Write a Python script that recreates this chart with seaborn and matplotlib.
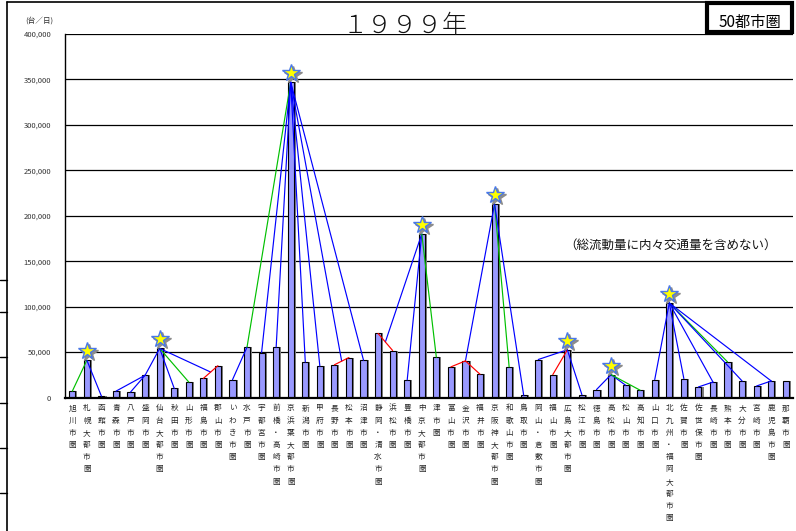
import numpy as np
import pandas as pd
import matplotlib
matplotlib.use("Agg")
import matplotlib.pyplot as plt
import matplotlib.transforms as mtransforms
from matplotlib.lines import Line2D
from matplotlib.patches import Rectangle
from matplotlib.ticker import FuncFormatter
import seaborn as sns

# 50都市圏 総流動量 (台/日), 1999年
areas = [
    "旭川市圏", "札幌大都市圏", "函館市圏", "青森市圏", "八戸市圏", "盛岡市圏",
    "仙台大都市圏", "秋田市圏", "山形市圏", "福島市圏", "郡山市圏", "いわき市圏",
    "水戸市圏", "宇都宮市圏", "前橋・高崎市圏", "京浜葉大都市圏", "新潟市圏",
    "甲府市圏", "長野市圏", "松本市圏", "沼津市圏", "静岡・清水市圏", "浜松市圏",
    "豊橋市圏", "中京大都市圏", "津市圏", "富山市圏", "金沢市圏", "福井市圏",
    "京阪神大都市圏", "和歌山市圏", "鳥取市圏", "岡山・倉敷市圏", "福山市圏",
    "広島大都市圏", "松江市圏", "徳島市圏", "高松市圏", "松山市圏", "高知市圏",
    "山口市圏", "北九州・福岡大都市圏", "佐賀市圏", "佐世保市圏", "長崎市圏",
    "熊本市圏", "大分市圏", "宮崎市圏", "鹿児島市圏", "那覇市圏",
]
flows = [
    7000, 41000, 1500, 7000, 6000, 24500, 54000, 10000, 17000, 21000,
    35000, 19500, 55500, 49500, 55500, 347000, 39000, 34500, 36000, 44000,
    41000, 70500, 51700, 19300, 180000, 44400, 33700, 40300, 25600, 213000,
    33700, 2400, 41800, 25200, 52500, 3000, 8700, 25200, 13500, 8000,
    19700, 104000, 20800, 11600, 17000, 39200, 18200, 12700, 18200, 18600,
]
hubs = ["札幌大都市圏", "仙台大都市圏", "京浜葉大都市圏", "中京大都市圏",
        "京阪神大都市圏", "広島大都市圏", "高松市圏", "北九州・福岡大都市圏"]

# (from, to, colour); a tuple target means the middle of two bar tops
links = [
    ("札幌大都市圏", "旭川市圏", "green"),
    ("札幌大都市圏", "函館市圏", "blue"),
    ("仙台大都市圏", "盛岡市圏", "blue"),
    ("盛岡市圏", "青森市圏", "blue"),
    ("盛岡市圏", "八戸市圏", "blue"),
    ("仙台大都市圏", "秋田市圏", "blue"),
    ("仙台大都市圏", "山形市圏", "green"),
    ("仙台大都市圏", ("福島市圏", "郡山市圏"), "blue"),
    ("福島市圏", "郡山市圏", "red"),
    ("いわき市圏", "水戸市圏", "blue"),
    ("京浜葉大都市圏", "水戸市圏", "green"),
    ("京浜葉大都市圏", "宇都宮市圏", "blue"),
    ("京浜葉大都市圏", "前橋・高崎市圏", "blue"),
    ("京浜葉大都市圏", "新潟市圏", "blue"),
    ("京浜葉大都市圏", "甲府市圏", "blue"),
    ("京浜葉大都市圏", ("長野市圏", "松本市圏"), "blue"),
    ("長野市圏", "松本市圏", "red"),
    ("京浜葉大都市圏", "沼津市圏", "blue"),
    ("中京大都市圏", ("静岡・清水市圏", "浜松市圏"), "blue"),
    ("静岡・清水市圏", "浜松市圏", "red"),
    ("中京大都市圏", "豊橋市圏", "blue"),
    ("中京大都市圏", "津市圏", "green"),
    ("京阪神大都市圏", "金沢市圏", "blue"),
    ("富山市圏", "金沢市圏", "red"),
    ("金沢市圏", "福井市圏", "red"),
    ("京阪神大都市圏", "和歌山市圏", "green"),
    ("京阪神大都市圏", "鳥取市圏", "blue"),
    ("広島大都市圏", "岡山・倉敷市圏", "blue"),
    ("広島大都市圏", "福山市圏", "red"),
    ("広島大都市圏", "松江市圏", "blue"),
    ("高松市圏", "徳島市圏", "blue"),
    ("高松市圏", "松山市圏", "blue"),
    ("高松市圏", "高知市圏", "green"),
    ("北九州・福岡大都市圏", "山口市圏", "blue"),
    ("北九州・福岡大都市圏", "佐賀市圏", "blue"),
    ("北九州・福岡大都市圏", "長崎市圏", "blue"),
    ("佐世保市圏", "長崎市圏", "blue"),
    ("北九州・福岡大都市圏", "熊本市圏", "green"),
    ("北九州・福岡大都市圏", "大分市圏", "blue"),
    ("北九州・福岡大都市圏", "鹿児島市圏", "blue"),
    ("宮崎市圏", "鹿児島市圏", "blue"),
]
line_colors = {"blue": "#0000ff", "green": "#00c000", "red": "#ff0000"}

sns.set_theme(style="white")
plt.rcParams["font.family"] = ["Noto Sans CJK JP", "DejaVu Sans"]

fig = plt.figure(figsize=(7.96, 5.31), dpi=100)
ax = fig.add_axes([0.0817, 0.2514, 0.9146, 0.6846])

df = pd.DataFrame({"area": areas, "flow": flows})
pos = np.arange(len(areas))

# bar shadow
ax.bar(pos + 0.14, flows, width=0.42, color="#7f7f7f", linewidth=0, zorder=1.5)
sns.barplot(data=df, x="area", y="flow", color="#9999ff", saturation=1,
            width=0.42, edgecolor="black", linewidth=0.8, ax=ax, zorder=2)

idx = {a: i for i, a in enumerate(areas)}
top = dict(zip(areas, flows))


def anchor(t):
    if isinstance(t, tuple):
        return (idx[t[0]] + idx[t[1]]) / 2, (top[t[0]] + top[t[1]]) / 2
    return idx[t], top[t]


for a, b, c in links:
    x0, y0 = anchor(a)
    x1, y1 = anchor(b)
    ax.plot([x0, x1], [y0, y1], color=line_colors[c], lw=0.85, zorder=3)

# stars above hub bars
hx = [idx[h] for h in hubs]
hy = [top[h] for h in hubs]
shadow_tr = mtransforms.offset_copy(ax.transData, fig=fig, x=2, y=7, units="dots")
star_tr = mtransforms.offset_copy(ax.transData, fig=fig, x=0, y=9, units="dots")
ax.plot(hx, hy, ls="none", marker="*", ms=13, mfc="#8c8c8c", mec="#8c8c8c",
        transform=shadow_tr, zorder=4, clip_on=False)
ax.plot(hx, hy, ls="none", marker="*", ms=13, mfc="#ffff00", mec="#4a78e8",
        mew=1.0, transform=star_tr, zorder=5, clip_on=False)

ax.set_xlim(-0.5, 49.5)
ax.set_ylim(0, 400000)
ax.set_yticks(np.arange(0, 400001, 50000))
ax.yaxis.set_major_formatter(FuncFormatter(lambda v, p: f"{int(v):,}"))
ax.grid(axis="y", color="black", lw=0.9)
ax.set_axisbelow(True)
ax.set_xlabel("")
ax.set_ylabel("")

ax.set_xticks(pos)
ax.set_xticklabels(["\n".join(a) for a in areas], fontsize=5.5, linespacing=1.7)
ax.set_xticks(np.arange(-0.5, 50, 1), minor=True)
ax.tick_params(axis="x", which="major", length=0, pad=5)
ax.tick_params(axis="x", which="minor", length=3, direction="out", color="black", width=0.8)
ax.tick_params(axis="y", length=3, direction="in", color="black", labelsize=5.5, pad=10)
for lab in ax.get_yticklabels():
    lab.set_color("#333333")

for s in ["top", "right"]:
    ax.spines[s].set_visible(False)
ax.spines["left"].set_color("black")
ax.spines["left"].set_linewidth(1.0)
ax.spines["bottom"].set_color("black")
ax.spines["bottom"].set_linewidth(1.6)

ax.text(0.832, 0.42, "（総流動量に内々交通量を含めない）", transform=ax.transAxes,
        ha="center", va="center", fontsize=9, color="#111111")

# titles and frame
fig.text(0.509, 0.952, "１９９９年", ha="center", va="center", fontsize=18,
         fontweight="light", color="#111111")
fig.text(25 / 796, 1 - 21 / 531, "(台／日)", ha="left", va="center", fontsize=5.5,
         color="#333333")
fig.patches.append(Rectangle((707 / 796, 1 - 32 / 531), 85 / 796, 29 / 531,
                             fill=False, lw=3, edgecolor="black",
                             transform=fig.transFigure, figure=fig))
fig.text(750 / 796, 1 - 22 / 531, "50都市圏", ha="center", va="center",
         fontsize=11, color="black")

fig.add_artist(Line2D([7 / 796, 707 / 796], [1 - 2 / 531, 1 - 2 / 531],
                      color="black", lw=1.2, transform=fig.transFigure))
fig.add_artist(Line2D([7 / 796, 7 / 796], [0, 1 - 2 / 531],
                      color="black", lw=1.2, transform=fig.transFigure))
for yy in [280, 312, 357, 403, 448, 493]:
    fig.add_artist(Line2D([0, 7 / 796], [1 - yy / 531, 1 - yy / 531],
                          color="black", lw=1.0, transform=fig.transFigure))

fig.savefig("out.png", dpi=100)
